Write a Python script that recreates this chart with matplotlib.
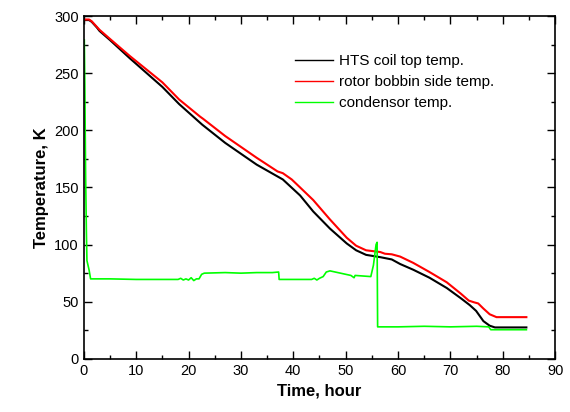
import matplotlib
matplotlib.use('Agg')
import matplotlib.pyplot as plt
from matplotlib.ticker import MultipleLocator

plt.rcParams['font.family'] = ['Liberation Sans', 'DejaVu Sans']

# HTS coil top temperature (black)
coil_t = [0, 1.0, 1.5, 2.5, 3.0, 5, 8.8, 15, 18.2, 22.6, 27, 33, 38, 41.3, 43.8,
          47, 50.2, 52, 53.9, 56.6, 58.8, 60.4, 62.9, 66, 69.3, 72, 73.7, 74.9,
          76.3, 77.5, 78.5, 84.5]
coil_T = [296.5, 296.5, 295, 290, 287, 279, 263, 238, 223, 205, 189, 170, 157, 143, 129,
          114, 101, 95, 91, 89, 87, 83, 78, 71, 62, 53, 47, 42,
          33, 29, 27.5, 27.5]

# rotor bobbin side temperature (red)
bobbin_t = [0, 1.0, 1.5, 3, 5, 8.8, 15, 18.2, 22.2, 22.8, 27, 33, 37, 38, 39.7, 41.3,
            43.8, 47, 50.2, 52, 53.9, 56.6, 57.5, 58.8, 60.4, 62.9, 66, 69.3, 72,
            73.5, 74.5, 75.3, 76.3, 77.5, 78.8, 84.5]
bobbin_T = [297, 297, 295.5, 288, 280, 265, 242, 227, 212, 210, 195, 176, 164, 162.5, 157, 150,
            139, 122, 106, 99, 95, 93.5, 92, 91.5, 89.5, 84, 76, 67, 57,
            51, 49.5, 48.5, 44, 39, 36.5, 36.5]

# condensor temperature (green)
cond_t = [0.1, 0.2, 0.35, 0.5, 0.6, 0.8, 1.0, 1.3, 5, 10, 15, 18, 18.5, 19, 19.5, 20,
          20.5, 21, 21.5, 22, 22.5, 23, 27, 30, 33, 36, 37.2, 37.3, 40, 43.5, 44, 44.5,
          45, 45.7, 46.3, 47, 49, 51, 51.6, 51.8, 54.8, 55.3, 55.8, 56, 56.1, 60, 65,
          70, 75, 77.3, 77.7, 84.5]
cond_T = [279, 240, 160, 110, 86, 82, 78, 70, 70, 69.5, 69.5, 69.5, 70.5, 69, 70, 69,
          71, 68.5, 70, 70, 74, 75, 75.5, 75, 75.5, 75.5, 76, 69.5, 69.5, 69.5, 70.5, 69,
          70.5, 72, 76, 77, 75, 73, 71, 73, 72, 82, 100, 102, 28, 28, 28.5,
          28, 28.5, 28, 25.5, 25.5]

fig = plt.figure(figsize=(5.7, 4.12), dpi=100)
ax = fig.add_axes([0.147, 0.129, 0.827, 0.832])

ax.plot(coil_t, coil_T, color='black', lw=1.5, label='HTS coil top temp.')
ax.plot(bobbin_t, bobbin_T, color='#ff0000', lw=1.5, label='rotor bobbin side temp.')
ax.plot(cond_t, cond_T, color='#00ff00', lw=1.2, label='condensor temp.')

ax.set_xlim(0, 90)
ax.set_ylim(0, 300)
ax.xaxis.set_major_locator(MultipleLocator(10))
ax.xaxis.set_minor_locator(MultipleLocator(5))
ax.yaxis.set_major_locator(MultipleLocator(50))
ax.yaxis.set_minor_locator(MultipleLocator(25))
ax.tick_params(which='both', direction='in', top=True, right=True, labelsize=10.5)
ax.tick_params(which='major', length=6, width=1)
ax.tick_params(which='minor', length=3, width=1)
for s in ax.spines.values():
    s.set_linewidth(1.2)

ax.set_xlabel('Time, hour', fontsize=12, fontweight='bold')
ax.set_ylabel('Temperature, K', fontsize=12, fontweight='bold')

leg = ax.legend(frameon=False, fontsize=11, handlelength=2.5, handletextpad=0.4,
                labelspacing=0.45, loc='upper left', bbox_to_anchor=(0.419, 0.928))
for line in leg.get_lines():
    line.set_linewidth(1.0)

fig.savefig('out.png', dpi=100)
